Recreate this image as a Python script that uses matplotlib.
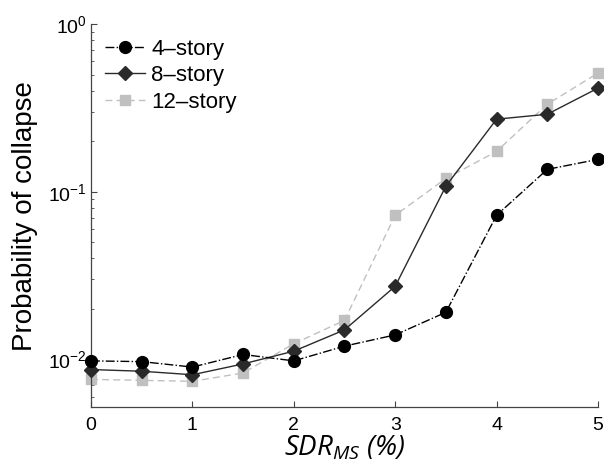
import matplotlib
matplotlib.use("Agg")
import matplotlib.pyplot as plt
from matplotlib.ticker import LogLocator, NullFormatter

plt.rcParams["font.family"] = ["Liberation Sans", "DejaVu Sans"]
plt.rcParams["mathtext.default"] = "regular"

sdr = [0, 0.5, 1, 1.5, 2, 2.5, 3, 3.5, 4, 4.5, 5]
p_4story = [0.0098, 0.0097, 0.0090, 0.0107, 0.0098, 0.0120, 0.0140, 0.0191, 0.0724, 0.136, 0.156]
p_8story = [0.0087, 0.0085, 0.0081, 0.0094, 0.0112, 0.0150, 0.0273, 0.108, 0.271, 0.290, 0.415]
p_12story = [0.0076, 0.0075, 0.0074, 0.0083, 0.0124, 0.0171, 0.0724, 0.120, 0.174, 0.333, 0.51]
labels = ["4\u2013story", "8\u2013story", "12\u2013story"]

fig = plt.figure(figsize=(6.04, 4.73), dpi=100)
ax = fig.add_axes([0.1507, 0.1395, 0.8393, 0.8095])

ax.plot(sdr, p_4story, color="black", linestyle="-.", linewidth=1.0,
        marker="o", markersize=8.5, label=labels[0], clip_on=False, zorder=4)
ax.plot(sdr, p_8story, color="#2a2a2a", linestyle="-", linewidth=1.0,
        marker="D", markersize=7, label=labels[1], clip_on=False, zorder=3)
ax.plot(sdr, p_12story, color="#c0c0c0", linestyle=(0, (5, 3)), linewidth=1.0,
        marker="s", markersize=6.5, label=labels[2], clip_on=False, zorder=2)

ax.set_yscale("log")
ax.set_xlim(0, 5)
ax.set_ylim(0.0052, 1)
ax.set_xticks([0, 1, 2, 3, 4, 5])
ax.yaxis.set_major_locator(LogLocator(base=10, numticks=10))
ax.yaxis.set_minor_locator(LogLocator(base=10, subs=range(2, 10), numticks=10))
ax.yaxis.set_minor_formatter(NullFormatter())

for side in ("top", "right"):
    ax.spines[side].set_visible(False)
for side in ("left", "bottom"):
    ax.spines[side].set_color("#444444")
    ax.spines[side].set_linewidth(0.9)

ax.tick_params(which="both", direction="in", color="#444444", labelsize=14)
ax.tick_params(which="major", length=4)
ax.tick_params(axis="x", pad=7.5)
ax.tick_params(axis="y", pad=3)
ax.tick_params(which="minor", length=2.5)

ax.set_ylabel("Probability of collapse", fontsize=20)
ax.yaxis.set_label_coords(-0.104, 0.5)
ax.set_xlabel("SDR$_{MS}$ (%)", fontsize=20, style="italic", family="Open Sans", labelpad=0)

ax.legend(loc="upper left", frameon=False, fontsize=16, handlelength=1.8,
          handletextpad=0.25, labelspacing=0.25, borderaxespad=0.25)

fig.savefig("out.png", dpi=100)
